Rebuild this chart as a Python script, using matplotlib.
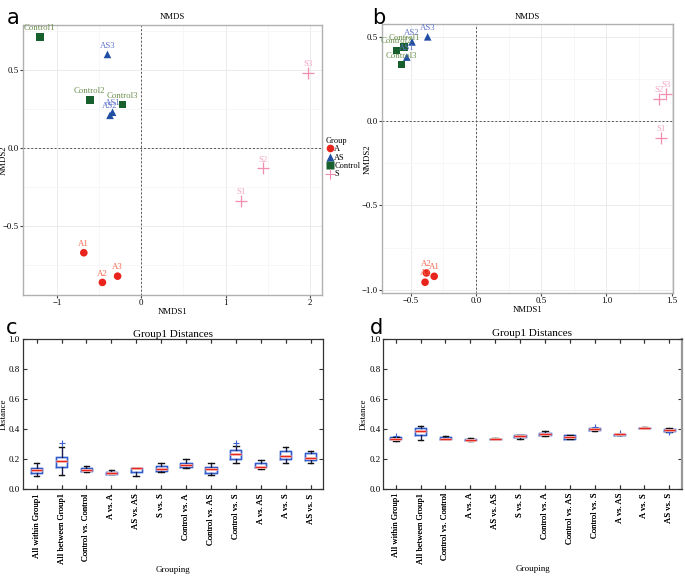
import matplotlib
matplotlib.use("Agg")
import matplotlib.pyplot as plt
from matplotlib.lines import Line2D
from matplotlib.ticker import MultipleLocator

# ---------------- data ----------------
groups = ["A", "AS", "Control", "S"]
group_colors = {"A": "#e8241c", "AS": "#1f4ea3", "Control": "#17602d", "S": "#f28db2"}
label_colors = {"A": "#f26a4f", "AS": "#5f73c9", "Control": "#6b8e4e", "S": "#f3a3c3"}
group_markers = {"A": "o", "AS": "^", "Control": "s", "S": "+"}

# panel a
a_names = ["A1", "A2", "A3", "AS1", "AS2", "AS3", "Control1", "Control2", "Control3", "S1", "S2", "S3"]
a_groups = ["A", "A", "A", "AS", "AS", "AS", "Control", "Control", "Control", "S", "S", "S"]
a_x = [-0.68, -0.46, -0.28, -0.34, -0.37, -0.40, -1.20, -0.61, -0.22, 1.18, 1.44, 1.98]
a_y = [-0.67, -0.86, -0.82, 0.23, 0.21, 0.60, 0.71, 0.31, 0.28, -0.34, -0.13, 0.48]

# panel b
b_names = ["A1", "A2", "A3", "AS1", "AS2", "AS3", "Control1", "Control2", "Control3", "S1", "S2", "S3"]
b_groups = a_groups
b_x = [-0.32, -0.38, -0.39, -0.53, -0.49, -0.37, -0.55, -0.61, -0.57, 1.415, 1.40, 1.46]
b_y = [-0.92, -0.90, -0.955, 0.38, 0.47, 0.50, 0.44, 0.42, 0.335, -0.10, 0.13, 0.16]

# box plots
categories = ["All within Group1", "All between Group1", "Control vs. Control", "A vs. A",
              "AS vs. AS", "S vs. S", "Control vs. A", "Control vs. AS", "Control vs. S",
              "A vs. AS", "A vs. S", "AS vs. S"]
c_lo  = [0.091, 0.096, 0.116, 0.102, 0.091, 0.113, 0.142, 0.096, 0.176, 0.133, 0.176, 0.178]
c_q1  = [0.111, 0.147, 0.120, 0.104, 0.113, 0.124, 0.147, 0.111, 0.200, 0.147, 0.204, 0.198]
c_med = [0.129, 0.187, 0.129, 0.111, 0.140, 0.133, 0.162, 0.133, 0.233, 0.151, 0.220, 0.207]
c_q3  = [0.144, 0.213, 0.142, 0.118, 0.144, 0.156, 0.173, 0.147, 0.260, 0.173, 0.258, 0.244]
c_hi  = [0.173, 0.282, 0.158, 0.127, 0.145, 0.173, 0.202, 0.176, 0.290, 0.193, 0.280, 0.258]
c_fl  = [[], [0.311], [], [], [], [], [], [], [0.310], [], [], []]

d_lo  = [0.320, 0.328, 0.329, 0.320, 0.329, 0.333, 0.353, 0.329, 0.387, 0.358, 0.405, 0.378]
d_q1  = [0.329, 0.358, 0.331, 0.322, 0.331, 0.342, 0.356, 0.333, 0.389, 0.360, 0.406, 0.384]
d_med = [0.333, 0.384, 0.333, 0.327, 0.333, 0.349, 0.367, 0.347, 0.396, 0.364, 0.407, 0.391]
d_q3  = [0.342, 0.404, 0.344, 0.331, 0.335, 0.356, 0.373, 0.356, 0.404, 0.366, 0.408, 0.398]
d_hi  = [0.345, 0.418, 0.349, 0.336, 0.338, 0.360, 0.384, 0.356, 0.408, 0.368, 0.410, 0.407]
d_fl  = [[0.355], [], [], [], [], [], [], [], [0.413], [0.372], [], [0.380]]

serif = ["Liberation Serif", "DejaVu Serif"]
plt.rcParams["font.family"] = serif

W, H = 685, 576
fig = plt.figure(figsize=(6.85, 5.76), dpi=100)


def nmds_panel(ax, names, grps, xs, ys, xlim, ylim, xmaj, ymaj, ylab_x):
    ax.set_xlim(*xlim)
    ax.set_ylim(*ylim)
    ax.xaxis.set_major_locator(MultipleLocator(xmaj))
    ax.yaxis.set_major_locator(MultipleLocator(ymaj))
    ax.xaxis.set_minor_locator(MultipleLocator(xmaj / 2))
    ax.yaxis.set_minor_locator(MultipleLocator(ymaj / 2))
    ax.grid(True, which="major", color="#ebebeb", lw=0.7)
    ax.grid(True, which="minor", color="#f4f4f4", lw=0.5)
    ax.set_axisbelow(True)
    for s in ax.spines.values():
        s.set_color("#b0b0b0")
        s.set_linewidth(1.0)
    ax.tick_params(which="both", length=2, color="#444444", labelsize=6.3, pad=1)
    ax.tick_params(which="minor", length=0)
    ax.axhline(0, color="#555555", lw=0.7, ls=(0, (2, 2)), zorder=1)
    ax.axvline(0, color="#555555", lw=0.7, ls=(0, (2, 2)), zorder=1)
    for g in groups:
        gx = [x for x, gg in zip(xs, grps) if gg == g]
        gy = [y for y, gg in zip(ys, grps) if gg == g]
        if g == "S":
            ax.scatter(gx, gy, marker="+", s=70, c=group_colors[g], linewidths=0.9, zorder=3)
        else:
            ax.scatter(gx, gy, marker=group_markers[g], s=30, c=group_colors[g], zorder=3,
                       edgecolors="none")
    for n, g, x, y in zip(names, grps, xs, ys):
        ax.annotate(n, (x, y), xytext=(0, 3.5), textcoords="offset points", ha="center",
                    va="bottom", fontsize=6.3, color=label_colors[g], zorder=4)
    ax.set_title("NMDS", fontsize=6.3, pad=4)
    ax.set_xlabel("NMDS1", fontsize=6.3, labelpad=0.5)
    ax.set_ylabel("NMDS2", fontsize=6.3)
    ax.yaxis.set_label_coords(ylab_x, 0.5)


ax_a = fig.add_axes([23 / W, 0.488, 0.4365, 0.469])
nmds_panel(ax_a, a_names, a_groups, a_x, a_y, (-1.4, 2.14), (-0.94, 0.79), 1, 0.5,
           (8 - 23) / 299)
ax_b = fig.add_axes([382 / W, 0.491, 0.4248, 0.467])
nmds_panel(ax_b, b_names, b_groups, b_x, b_y, (-0.72, 1.51), (-1.02, 0.575), 0.5, 0.5,
           (372 - 382) / 291)

handles = []
for g in groups:
    if g == "S":
        h = Line2D([], [], marker="+", ls="none", color=group_colors[g], markersize=7, mew=0.8)
    else:
        h = Line2D([], [], marker=group_markers[g], ls="none", color=group_colors[g],
                   markersize=5.5, mec="none")
    handles.append(h)
leg = fig.legend(handles, groups, title="Group", loc="upper left",
                 bbox_to_anchor=(325 / W, 1 - 136 / H), frameon=False, fontsize=6,
                 title_fontsize=6, handletextpad=0.0, labelspacing=0.05, borderpad=0.1,
                 handlelength=1.0, borderaxespad=0)
leg._legend_box.align = "left"


def box_panel(ax, lo, q1, med, q3, hi, fl, xlim):
    stats = []
    for i, c in enumerate(categories):
        stats.append({"whislo": lo[i], "q1": q1[i], "med": med[i], "q3": q3[i],
                      "whishi": hi[i], "fliers": [], "label": c})
    # soft halo underneath
    ax.bxp(stats, widths=0.45, showfliers=False, showcaps=False,
           boxprops=dict(color="#d3ddf4", lw=2.0),
           medianprops=dict(color="#f8cdc9", lw=2.0),
           whiskerprops=dict(color="none", lw=0))
    for i in range(len(categories)):
        stats[i]["fliers"] = fl[i]
    ax.bxp(stats, widths=0.45, showfliers=True,
           boxprops=dict(color="#2f5ccc", lw=1.0),
           medianprops=dict(color="#e8261c", lw=1.0),
           whiskerprops=dict(color="#1a1f4f", lw=1.0),
           capprops=dict(color="#111111", lw=1.0),
           flierprops=dict(marker="+", markeredgecolor="#3b5fd0", markersize=4, mew=0.8))
    ax.set_ylim(0, 1.0)
    ax.set_xlim(*xlim)
    ax.set_yticks([0, 0.2, 0.4, 0.6, 0.8, 1.0])
    ax.set_yticklabels(["0.0", "0.2", "0.4", "0.6", "0.8", "1.0"])
    ax.tick_params(axis="both", direction="in", length=3, top=True, right=True,
                   labelsize=6.5, pad=2, color="#333333")
    ax.tick_params(axis="x", rotation=90, labelsize=6.2, pad=3)
    for s in ax.spines.values():
        s.set_color("#333333")
        s.set_linewidth(0.9)
    ax.set_title("Group1 Distances", fontsize=8, pad=2)
    ax.set_xlabel("Grouping", fontsize=6.5, labelpad=1)
    ax.set_ylabel("Distance", fontsize=6.5, labelpad=1)


ax_c = fig.add_axes([22.7 / W, 0.1505, 0.4384, 0.2604])
box_panel(ax_c, c_lo, c_q1, c_med, c_q3, c_hi, c_fl, (0.44, 12.5))
ax_d = fig.add_axes([383.3 / W, 0.1516, 0.4356, 0.2599])
box_panel(ax_d, d_lo, d_q1, d_med, d_q3, d_hi, d_fl, (0.5, 12.5))
ax_d.spines["right"].set_color("#999999")
ax_d.spines["right"].set_linewidth(1.6)

for letter, (x, y) in zip("abcd", [(7, 8), (372, 8), (6, 318), (370, 318)]):
    fig.text(x / W, 1 - y / H, letter, fontsize=15, family="DejaVu Sans",
             va="top", ha="left")

fig.savefig("out.png", dpi=100)
